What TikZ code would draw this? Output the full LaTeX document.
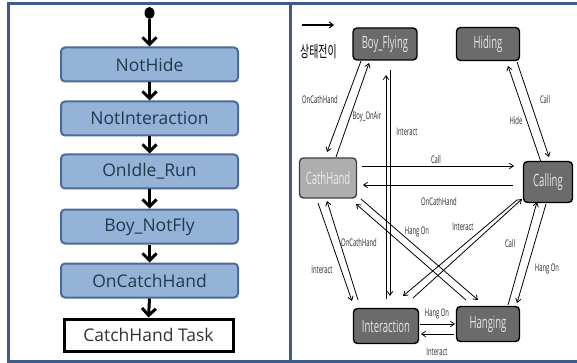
\documentclass[tikz,border=0pt]{standalone}
\usepackage{fontspec}
\usetikzlibrary{arrows.meta,calc,shapes.geometric}
\setmainfont{Open Sans}
\newfontfamily\narrowfont[FakeStretch=0.56]{Open Sans}
\newfontfamily\kofont[FakeStretch=0.62]{Noto Sans CJK KR}
\definecolor{framecol}{HTML}{3D5B8C}
\definecolor{boxfill}{HTML}{95B3D7}
\definecolor{boxedge}{HTML}{4A6B9B}
\definecolor{boxtext}{HTML}{22384F}
\definecolor{statefill}{HTML}{6B6B6B}
\definecolor{lightstate}{HTML}{AEAEAE}
\definecolor{statetext}{HTML}{E6E6E6}
\tikzset{
  flowbox/.style={draw=boxedge, line width=2pt, fill=boxfill, rounded corners=4pt,
    minimum width=177pt, minimum height=34pt, inner sep=0pt,
    text=boxtext, font=\fontsize{17.5}{20}\selectfont},
  taskbox/.style={draw=black, line width=3pt, fill=white,
    minimum width=169pt, minimum height=32pt, inner sep=0pt,
    text=black!80, font=\fontsize{17.5}{20}\selectfont},
  flowarrow/.style={line width=3pt, -{Straight Barb[length=7pt,width=14pt,line width=3pt]}},
  state/.style={draw=black, line width=1.4pt, fill=statefill, rounded corners=4pt,
    inner sep=0pt, text=statetext, font=\narrowfont\fontsize{17}{20}\selectfont},
  trans/.style={line width=0.8pt, -{Straight Barb[length=4pt,width=5.5pt,line width=0.8pt]}},
  tlabel/.style={inner sep=0pt, text=black!85, font=\narrowfont\fontsize{10.5}{12}\selectfont},
}
\begin{document}
\begin{tikzpicture}[x=1pt, y=-1pt]
\useasboundingbox (0,0) rectangle (577,363);
\fill[white] (0,0) rectangle (577,363);

% panel frame
\draw[framecol, line width=3pt] (8,4) -- (577,4);
\draw[framecol, line width=3pt] (8,361) -- (577,361);
\draw[framecol, line width=3pt] (8,2.5) -- (8,362.5);
\draw[framecol, line width=3pt] (290,2.5) -- (290,362.5);

% ---- left: task sequence ----
\node[fill=black, ellipse, minimum width=10pt, minimum height=12pt, inner sep=0pt] (start) at (149.5,13) {};
\node[flowbox] (b1) at (149.5,64.5) {NotHide};
\node[flowbox] (b2) at (149.5,118.5) {NotInteraction};
\node[flowbox] (b3) at (149.5,171.5) {OnIdle\_Run};
\node[flowbox] (b4) at (149.5,226.5) {Boy\_NotFly};
\node[flowbox] (b5) at (149.5,280.5) {OnCatchHand};
\node[taskbox] (b6) at (148.5,335) {CatchHand Task};

\draw[flowarrow] (start.south) -- (b1.north);
\draw[flowarrow] (b1.south) -- (b2.north);
\draw[flowarrow] (b2.south) -- (b3.north);
\draw[flowarrow] (b3.south) -- (b4.north);
\draw[flowarrow] (b4.south) -- (b5.north);
\draw[flowarrow] (b5.south) -- (b6.north);

% ---- right: state transitions ----
\coordinate (legA) at (302,25);
\coordinate (legB) at (334,25);
\draw[line width=1.1pt, -{Straight Barb[length=4pt,width=6pt,line width=1.1pt]}] (legA) -- (legB);
\node[inner sep=0pt, anchor=west, font=\kofont\fontsize{16}{18}\selectfont] (legtext) at (300,52) {상태전이};

\node[state, minimum width=64pt, minimum height=32pt] (bf) at (385,44) {Boy\_Flying};
\node[state, minimum width=63pt, minimum height=33pt] (hid) at (488,44) {Hiding};
\node[state, fill=lightstate, draw=black!75, text=white!92!black, minimum width=57pt, minimum height=40pt] (ch) at (328,178) {CathHand};
\node[state, minimum width=49pt, minimum height=41pt] (cal) at (548,182) {Calling};
\node[state, minimum width=65pt, minimum height=35pt] (int) at (386,326) {Interaction};
\node[state, minimum width=63pt, minimum height=35pt] (hg) at (488,324) {Hanging};

% Boy_Flying <-> CathHand
\draw[trans] ([shift={(-24,17)}]bf.center) -- ([shift={(-1,-26)}]ch.center);
\draw[trans] ([shift={(8,-21)}]ch.center) -- ([shift={(-16,19)}]bf.center);
% Interaction <-> Boy_Flying
\draw[trans] ([shift={(0,-27)}]int.center) -- ([shift={(1,31)}]bf.center);
\draw[trans] ([shift={(5,26)}]bf.center) -- ([shift={(4,-30)}]int.center);
% CathHand <-> Calling
\draw[trans] ([shift={(34,-12)}]ch.center) -- ([shift={(-34,-16)}]cal.center);
\draw[trans] ([shift={(-35,3)}]cal.center) -- ([shift={(35,7)}]ch.center);
% Calling <-> Hiding
\draw[trans] ([shift={(-7,-20)}]cal.center) -- ([shift={(20,22)}]hid.center);
\draw[trans] ([shift={(29,18)}]hid.center) -- ([shift={(1,-25)}]cal.center);
% CathHand <-> Interaction
\draw[trans] ([shift={(-10,25)}]ch.center) -- ([shift={(-34,-25)}]int.center);
\draw[trans] ([shift={(-28,-26)}]int.center) -- ([shift={(-1,23)}]ch.center);
% CathHand <-> Hanging
\draw[trans] ([shift={(-22,-24)}]hg.center) -- ([shift={(28,26)}]ch.center);
\draw[trans] ([shift={(33,21)}]ch.center) -- ([shift={(-10,-24)}]hg.center);
% Calling <-> Interaction
\draw[trans] ([shift={(-31,18)}]cal.center) -- ([shift={(17,-30)}]int.center);
\draw[trans] ([shift={(27,-28)}]int.center) -- ([shift={(-26,17)}]cal.center);
% Calling <-> Hanging
\draw[trans] ([shift={(-2,22)}]cal.center) -- ([shift={(29,-21)}]hg.center);
\draw[trans] ([shift={(20,-19)}]hg.center) -- ([shift={(-11,20)}]cal.center);
% Interaction <-> Hanging
\draw[trans] ([shift={(34,-2)}]int.center) -- ([shift={(-33,0)}]hg.center);
\draw[trans] ([shift={(-34,10)}]hg.center) -- ([shift={(35,8)}]int.center);

% transition labels
\node[tlabel] (l1) at (320,100) {OnCathHand};
\node[tlabel] (l2) at (367,117) {Boy\_OnAir};
\node[tlabel] (l3) at (407,132) {Interact};
\node[tlabel] (l4) at (436,160) {Call};
\node[tlabel] (l5) at (439,202) {OnCathHand};
\node[tlabel] (l6) at (545,100) {Call};
\node[tlabel] (l7) at (516,121) {Hide};
\node[tlabel] (l8) at (322,270) {Interact};
\node[tlabel] (l9) at (359,243) {OnCathHand};
\node[tlabel] (l10) at (417,232) {Hang On};
\node[tlabel] (l11) at (463,227) {Interact};
\node[tlabel] (l12) at (510,244) {Call};
\node[tlabel] (l13) at (547,269) {Hang On};
\node[tlabel] (l14) at (437,314) {Hang On};
\node[tlabel] (l15) at (437,352) {Interact};
\end{tikzpicture}
\end{document}
